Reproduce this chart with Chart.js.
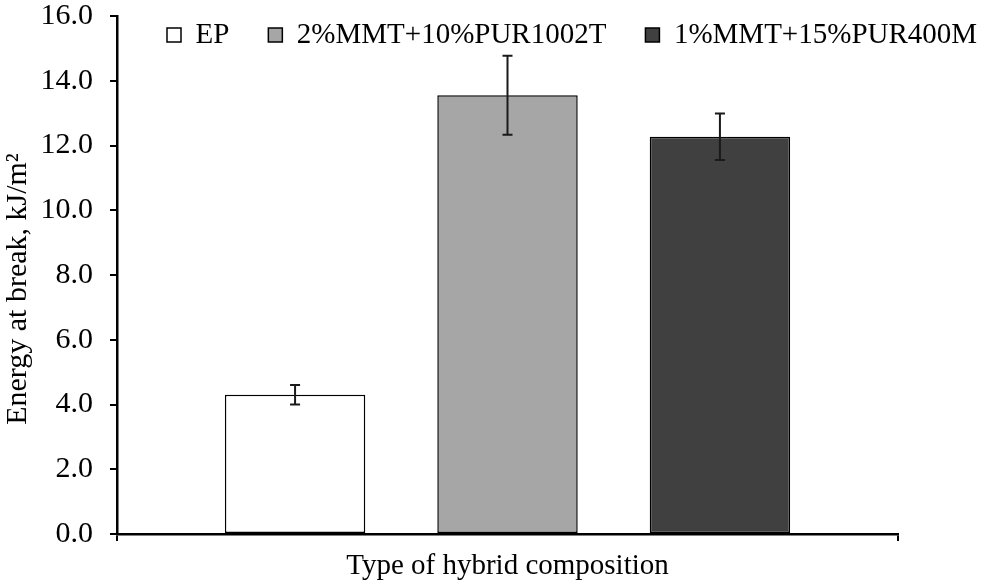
<!DOCTYPE html>
<html>
<head>
<meta charset="utf-8">
<script src="https://cdn.jsdelivr.net/npm/chart.js@4.4.1/dist/chart.umd.min.js"></script>
<style>
html,body{margin:0;padding:0;background:#fff;}
#wrap{width:990px;height:585px;}
</style>
</head>
<body>
<div id="wrap"><canvas id="c" width="990" height="585"></canvas></div>
<script>
// ---- data ----
const categories = [''];
const seriesNames = ['EP', '2%MMT+10%PUR1002T', '1%MMT+15%PUR400M'];
const seriesValues = [4.30, 13.55, 12.27];
const seriesErrors = [0.30, 1.22, 0.72];
const seriesColors = ['#ffffff', '#a6a6a6', '#404040'];
const yTicks = [0, 2, 4, 6, 8, 10, 12, 14, 16];
const xTitle = 'Type of hybrid composition';
const yTitle = 'Energy at break, kJ/m\u00B2';

const FONT = '"Liberation Serif", "Times New Roman", serif';
const LEGEND_FONT = 29, LEGEND_PAD = 39, LEGEND_BOX = 14;
const Y_TITLE_SHIFT = 14;

const datasets = seriesNames.map((name, i) => ({
  label: name,
  data: [seriesValues[i]],
  errors: [seriesErrors[i]],
  backgroundColor: seriesColors[i],
  borderColor: '#000000',
  borderWidth: 1.5,
  borderSkipped: false,
  categoryPercentage: 0.816,
  barPercentage: 0.661
}));

const errorBarPlugin = {
  id: 'errorBars',
  afterDatasetsDraw(chart) {
    const ctx = chart.ctx;
    const yScale = chart.scales.y;
    ctx.save();
    ctx.strokeStyle = '#1a1a1a';
    ctx.lineWidth = 2;
    chart.data.datasets.forEach((ds, di) => {
      const meta = chart.getDatasetMeta(di);
      meta.data.forEach((el, j) => {
        const v = ds.data[j], e = ds.errors[j];
        const x = el.x;
        const yTop = yScale.getPixelForValue(v + e);
        const yBot = yScale.getPixelForValue(v - e);
        const cap = 5;
        ctx.beginPath();
        ctx.moveTo(x, yTop); ctx.lineTo(x, yBot);
        ctx.moveTo(x - cap, yTop); ctx.lineTo(x + cap, yTop);
        ctx.moveTo(x - cap, yBot); ctx.lineTo(x + cap, yBot);
        ctx.stroke();
      });
    });
    ctx.restore();
  }
};

// legend drawn inside the plot area on a single row (as in the original); y title nudged down
const LEGEND_X = 167, LEGEND_CY = 35;
const layoutTweakPlugin = {
  id: 'layoutTweak',
  beforeLayout(chart) {
    const lg = chart.legend;
    if (lg && !lg._patched) {
      const orig = lg.fit;
      lg.fit = function () {
        this.maxWidth = 3000;
        orig.call(this);
        this._realH = this.height;
        this.height = 0;
      };
      lg._patched = true;
    }
  },
  afterLayout(chart) {
    const lg = chart.legend;
    if (lg) {
      const top = LEGEND_CY - LEGEND_PAD - LEGEND_FONT / 2;
      lg.left = LEGEND_X - LEGEND_PAD;
      lg.right = 3000;
      lg.width = lg.right - lg.left;
      lg.top = top;
      lg.height = lg._realH || 80;
      lg.bottom = top + lg.height;
    }
    const ys = chart.scales.y;
    if (ys && !ys._titlePatched) {
      const origDT = ys.drawTitle;
      ys.drawTitle = function () {
        const ctx = this.ctx;
        ctx.save();
        ctx.translate(0, Y_TITLE_SHIFT);
        origDT.apply(this, arguments);
        ctx.restore();
      };
      ys._titlePatched = true;
    }
  }
};

const chart = new Chart(document.getElementById('c'), {
  type: 'bar',
  data: { labels: categories, datasets },
  plugins: [errorBarPlugin, layoutTweakPlugin],
  options: {
    responsive: false,
    animation: false,
    layout: { padding: { left: 0, right: 92, top: 16, bottom: 0 } },
    plugins: {
      tooltip: { enabled: false },
      legend: {
        display: true,
        position: 'top',
        align: 'start',
        labels: {
          font: { family: FONT, size: LEGEND_FONT },
          color: '#000',
          boxWidth: LEGEND_BOX,
          boxHeight: LEGEND_BOX,
          padding: LEGEND_PAD
        }
      }
    },
    scales: {
      x: {
        type: 'category',
        offset: true,
        grid: { display: true, offset: true, drawOnChartArea: false, drawTicks: true, tickLength: 7, color: '#000', lineWidth: 2 },
        border: { display: true, color: '#000', width: 2.5 },
        ticks: { display: false },
        title: { display: true, text: xTitle, color: '#000', font: { family: FONT, size: 29 }, padding: { top: 0, bottom: 1 } },
        afterFit(scale) { scale.height = 585 - 534; scale.paddingLeft = 0; scale.paddingRight = 0; }
      },
      y: {
        min: 0, max: 16,
        afterBuildTicks(scale) { scale.ticks = yTicks.map(v => ({ value: v })); },
        grid: { drawOnChartArea: false, drawTicks: true, tickLength: 7, color: '#000', lineWidth: 2 },
        border: { display: true, color: '#000', width: 2.5 },
        ticks: {
          color: '#000',
          font: { family: FONT, size: 30 },
          padding: 17,
          callback: v => Number(v).toFixed(1)
        },
        title: { display: true, text: yTitle, color: '#000', font: { family: FONT, size: 30 }, padding: 0 },
        afterFit(scale) { scale.width = 117; scale.paddingTop = 0; scale.paddingBottom = 0; }
      }
    }
  }
});
</script>
</body>
</html>
